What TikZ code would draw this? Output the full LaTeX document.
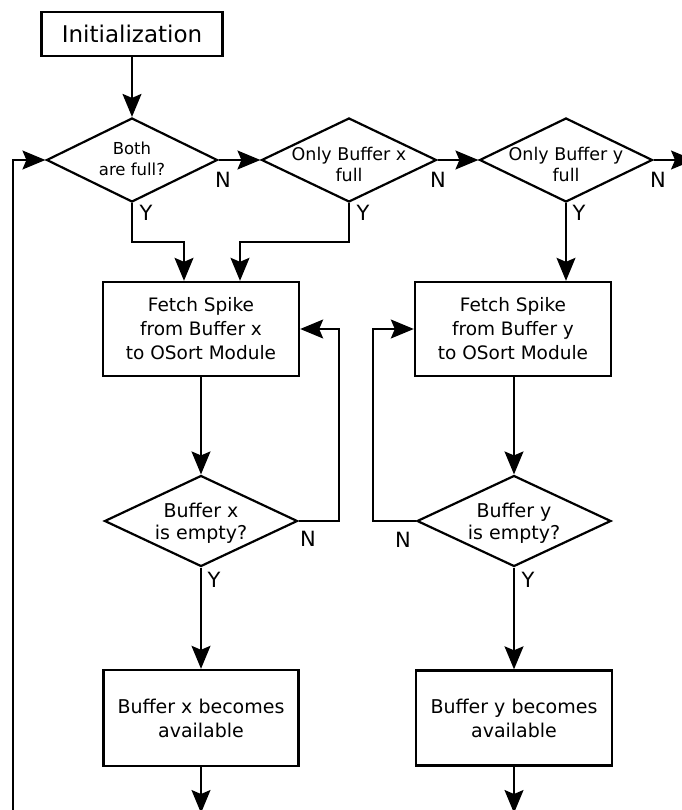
\documentclass[tikz,border=0pt]{standalone}
\usepackage{fontspec}
\setmainfont{DejaVu Sans}
\usetikzlibrary{shapes.geometric,arrows.meta}
\begin{document}
\begin{tikzpicture}[x=1pt,y=-1pt,
  box/.style={draw,line width=2.4pt,inner sep=0pt,align=center},
  dia/.style={draw,diamond,line width=2.2pt,inner sep=0pt},
  dtext/.style={align=center,inner sep=0pt},
  arr/.style={line width=1.6pt,-{Stealth[length=23pt,width=19pt,inset=4pt]}},
  lab/.style={font=\fontsize{21}{21}\selectfont,inner sep=0pt}]
\useasboundingbox (0,0) rectangle (681,810);
% top
\node[box,minimum width=181pt,minimum height=44pt,font=\fontsize{23}{26}\selectfont] (init) at (132,34) {Initialization};
\node[dia,minimum width=171pt,minimum height=84pt] (d1) at (132,160) {};
\node[dtext,font=\fontsize{16.5}{21}\selectfont] (d1t) at (132,159) {Both\\are full?};
\node[dia,minimum width=175pt,minimum height=84pt] (d2) at (349,160) {};
\node[dtext,font=\fontsize{17.5}{21}\selectfont] (d2t) at (349,164) {Only Buffer x\\full};
\node[dia,minimum width=173pt,minimum height=84pt] (d3) at (566,160) {};
\node[dtext,font=\fontsize{17.5}{21}\selectfont] (d3t) at (566,164) {Only Buffer y\\full};
% fetch boxes
\node[box,minimum width=196pt,minimum height=94pt,font=\fontsize{18.5}{24}\selectfont] (fx) at (201,329) {Fetch Spike\\from Buffer x\\to OSort Module};
\node[box,minimum width=196pt,minimum height=94pt,font=\fontsize{18.5}{24}\selectfont] (fy) at (513,329) {Fetch Spike\\from Buffer y\\to OSort Module};
% empty diamonds
\node[dia,minimum width=193pt,minimum height=91pt] (ex) at (201,521) {};
\node[dtext,font=\fontsize{19}{22}\selectfont] (ext) at (201,523) {Buffer x\\is empty?};
\node[dia,minimum width=194pt,minimum height=91pt] (ey) at (514,521) {};
\node[dtext,font=\fontsize{19}{22}\selectfont] (eyt) at (514,523) {Buffer y\\is empty?};
% available boxes
\node[box,minimum width=195pt,minimum height=96pt,font=\fontsize{19}{24}\selectfont] (ax) at (201,718) {Buffer x becomes\\available};
\node[box,minimum width=196pt,minimum height=95pt,font=\fontsize{19}{24}\selectfont] (ay) at (514,718) {Buffer y becomes\\available};
% coordinates
\coordinate (lb) at (13,815);
\coordinate (c1) at (184,242);
\coordinate (c2) at (240,242);
\coordinate (rx) at (339,0);
\coordinate (ly) at (373,0);
\coordinate (bx) at (201,813);
\coordinate (by) at (514,813);
\coordinate (rend) at (694,160);
% connectors
\draw[arr] (init.south) -- (d1.north);
\draw[arr] (d1.east) -- (d2.west);
\draw[arr] (d2.east) -- (d3.west);
\draw[arr] (d3.east) -- (rend);
\draw[arr] (lb) |- (d1.west);
\draw[arr] (d1.south) |- (c1) -- (c1 |- fx.north);
\draw[arr] (d2.south) |- (c2) -- (c2 |- fx.north);
\draw[arr] (d3.south) -- (d3.south |- fy.north);
\draw[arr] (fx.south) -- (ex.north);
\draw[arr] (fy.south -| ey.north) -- (ey.north);
\draw[arr] (ex.east) -| (rx |- fx.east) -- (fx.east);
\draw[arr] (ey.west) -| (ly |- fy.west) -- (fy.west);
\draw[arr] (ex.south) -- (ax.north);
\draw[arr] (ey.south) -- (ay.north);
\draw[arr] (ax.south) -- (bx);
\draw[arr] (ay.south) -- (by);
% labels
\node[lab] (n1) at (223,180) {N};
\node[lab] (n2) at (438,180) {N};
\node[lab] (n3) at (658,180) {N};
\node[lab] (y1) at (146,213) {Y};
\node[lab] (y2) at (363,213) {Y};
\node[lab] (y3) at (579,213) {Y};
\node[lab] (n4) at (308,539) {N};
\node[lab] (n5) at (403,540) {N};
\node[lab] (y4) at (214,580) {Y};
\node[lab] (y5) at (528,580) {Y};
\end{tikzpicture}
\end{document}
